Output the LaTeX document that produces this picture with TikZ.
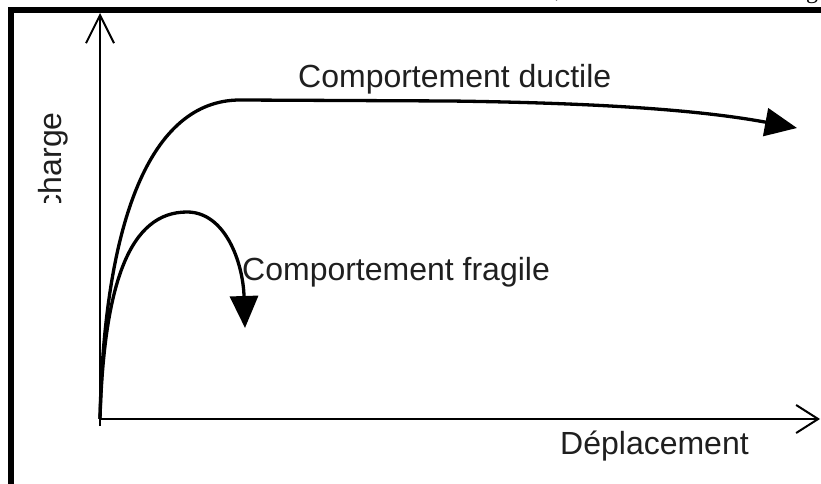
\documentclass[tikz,border=0pt]{standalone}
\usepackage{fontspec}
\setmainfont{Liberation Sans}
\newfontfamily\serifpart{Liberation Serif}
\usetikzlibrary{arrows.meta}
\begin{document}
\begin{tikzpicture}[x=1pt,y=-1pt,
  lbl/.style={font=\fontsize{32}{38}\selectfont, text=black!88, inner sep=0pt},
  axisy/.style={line width=2pt, -{Straight Barb[length=28pt,width=28pt]}},
  axisx/.style={line width=2pt, -{Straight Barb[length=22pt,width=28pt]}},
  curve/.style={line width=3.3pt, -{Triangle[length=32pt,width=28pt]}},
  frameline/.style={line width=5.5pt, line join=miter}]
\useasboundingbox (0,0) rectangle (821,484);
% frame
\draw[frameline] (11,500) -- (11,10) -- (830,10);
% cropped text fragments above the frame
\node[font=\serifpart\fontsize{24}{28}\selectfont, anchor=base, inner sep=0pt] (fragA) at (558,-2) {,};
\node[font=\serifpart\fontsize{24}{28}\selectfont, anchor=base, inner sep=0pt] (fragB) at (812,-1) {g};
% axes
\coordinate (O) at (100,419);
\coordinate (Ybot) at (100,426);
\coordinate (Ytip) at (100,13);
\coordinate (Xtip) at (820,419);
\draw[axisy] (Ybot) -- (Ytip);
\draw[axisx] (O) -- (Xtip);
% curves
\coordinate (Dtip) at (797,128);
\coordinate (Ftip) at (245,328);
\draw[curve] (O) .. controls (104,222) and (150,100) .. (240,100)
  -- (450,101) .. controls (600,103) and (700,110) .. (Dtip);
\draw[curve] (O) .. controls (104,282) and (130,212) .. (187,212)
  .. controls (225,212) and (243,262) .. (Ftip);
% labels
\node[lbl, anchor=base west] (duct) at (298,88) {Comportement ductile};
\node[lbl, anchor=base west] (frag) at (242,280) {Comportement fragile};
\node[lbl, anchor=base west] (depl) at (560,454) {Déplacement};
\begin{scope}
  \clip (0,0) rectangle (120,202);
  \node[lbl, rotate=90, anchor=base east] (charge) at (61,112) {charge};
\end{scope}
\end{tikzpicture}
\end{document}
